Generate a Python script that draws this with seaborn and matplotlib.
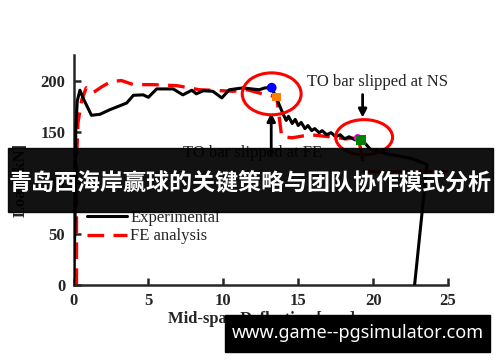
import numpy as np
import pandas as pd
import matplotlib
matplotlib.use("Agg")
import matplotlib.pyplot as plt
import seaborn as sns
from matplotlib.patches import Ellipse, Rectangle
from matplotlib.lines import Line2D

# ---------------- data ----------------
exp_x = [0.0, 0.1, 0.15, 0.25, 0.43, 0.7, 1.2, 1.77, 2.43, 3.0, 3.55, 4.0, 4.65, 5.0,
         5.55, 6.65, 7.3, 7.9, 8.2, 8.65, 9.3, 9.9, 10.4, 11.3, 11.77, 12.4, 12.77,
         13.23, 13.6, 14.0, 14.2, 14.35, 14.6, 14.8, 15.0, 15.2, 15.45, 15.65, 15.9,
         16.1, 16.4, 16.6, 16.9, 17.2, 17.5, 17.8, 18.1, 18.4, 18.8, 19.2, 19.5,
         19.8, 21.0, 22.5, 23.6, 22.77]
exp_y = [0, 60, 150, 180, 190.5, 181, 166, 167, 171.5, 174.8, 178, 185.6, 186, 183.6,
         191.8, 191.8, 186, 190.5, 187, 190, 189.5, 183, 191, 192.8, 192, 191, 192.8,
         193, 181, 167, 161, 165, 158, 162, 156, 159, 153, 156, 151,
         153, 149, 151, 147, 149, 145, 147, 143, 145, 142, 142, 138,
         133, 128, 124, 118, 0]

fe_x = [0.2, 0.2, 0.3, 0.55, 0.85, 1.3, 1.9, 2.5, 3.2, 4.0, 5.3, 6.9, 8.4, 10.0,
        10.65, 11.6, 12.6, 13.57, 13.7, 13.9, 14.6, 15.8, 17.1, 18.2, 18.97, 19.2,
        19.4, 19.8, 25.0]
fe_y = [0, 120, 159, 181, 193, 188, 194, 199, 200, 196, 196, 195, 191, 190,
        189.5, 191, 187, 184, 168, 145, 144, 147, 145, 143, 144, 132,
        112, 111, 111]

blue_pt = [13.23, 193]
orange_pt = [13.57, 184]
magenta_pt = [18.97, 144]
green_pt = [19.2, 142]

x_ticks = [0, 5, 10, 15, 20, 25]
y_ticks = [0, 50, 100, 150, 200]

series_labels = ["Experimental", "FE analysis"]
ns_note = "TO bar slipped at NS"
fe_note = "TO bar slipped at FE"
x_label = "Mid-span Deflection [mm]"
y_label = "Load [kN]"
banner = "青岛西海岸赢球的关键策略与团队协作模式分析"
watermark = "www.game--pgsimulator.com"

# ---------------- style ----------------
sns.set_style("ticks")
plt.rcParams["font.family"] = ["Liberation Serif", "DejaVu Serif"]
plt.rcParams["font.size"] = 12

fig = plt.figure(figsize=(5, 3.62), dpi=100)
ax = fig.add_axes([0.147, 0.2127, 0.749, 0.6354])

exp_df = pd.DataFrame({"x": exp_x, "y": exp_y})
fe_df = pd.DataFrame({"x": fe_x, "y": fe_y})

sns.lineplot(data=exp_df, x="x", y="y", sort=False, estimator=None, ax=ax,
             color="black", lw=2.2, zorder=3)
sns.lineplot(data=fe_df, x="x", y="y", sort=False, estimator=None, ax=ax,
             color="#ff0000", lw=2.4, dashes=False, zorder=2)
ax.lines[-1].set_dashes((5, 2.8))

for pt, col, mk, sz in [(blue_pt, "#0000ff", "o", 50), (orange_pt, "#ff8000", "s", 40),
                        (magenta_pt, "#ff00ff", "o", 30), (green_pt, "#008000", "s", 55)]:
    sns.scatterplot(x=[pt[0]], y=[pt[1]], ax=ax, color=col, marker=mk, s=sz,
                    edgecolor="none", zorder=5, legend=False)

ax.add_patch(Ellipse((13.23, 187), 3.93, 41, fill=False, ec="red", lw=2.2, zorder=4))
ax.add_patch(Ellipse((19.4, 144.6), 3.8, 34.3, fill=False, ec="red", lw=2.2, zorder=4))

ax.text(15.6, 199, ns_note, ha="left", va="center", fontsize=12, zorder=6)
ax.annotate("", xy=(19.3, 161), xytext=(19.3, 189),
            arrowprops=dict(arrowstyle="-|>", lw=2, color="black", mutation_scale=12))
ax.text(7.3, 136.5, fe_note, ha="left", va="top", fontsize=12, zorder=6)
ax.annotate("", xy=(13.2, 171), xytext=(13.2, 125),
            arrowprops=dict(arrowstyle="-|>", lw=2, color="black", mutation_scale=12))

ax.set_xlim(0, 25)
ax.set_ylim(0, 225)
ax.set_xticks(x_ticks)
ax.set_yticks(y_ticks)
ax.set_xticklabels([str(t) for t in x_ticks])
ax.set_yticklabels([str(t) for t in y_ticks])
ax.tick_params(direction="in", length=5, width=1.8, labelsize=12, pad=6)
for lab in ax.get_xticklabels() + ax.get_yticklabels():
    lab.set_fontweight("bold")
for s in ["left", "bottom"]:
    ax.spines[s].set_linewidth(1.8)
ax.spines["top"].set_visible(False)
ax.spines["right"].set_visible(False)

ax.set_xlabel(x_label, fontsize=12, fontweight="bold")
ax.xaxis.set_label_coords(0.503, -0.113)
ax.set_ylabel(y_label, fontsize=12, fontweight="bold")
ax.yaxis.set_label_coords(-0.12, 0.4565)

handles = [Line2D([], [], color="black", lw=2.2),
           Line2D([], [], color="#ff0000", lw=2.4, dashes=(5, 2.8))]
ax.legend(handles, series_labels, loc="upper left", bbox_to_anchor=(87 / 500, 1 - 210 / 362),
          bbox_transform=fig.transFigure, frameon=False, borderpad=0, borderaxespad=0,
          handlelength=2.4, handletextpad=0.2, labelspacing=0.15, fontsize=12)

# overlay banner
fig.add_artist(Rectangle((8 / 500, 1 - 212 / 362), 485 / 500, 64 / 362,
                         transform=fig.transFigure, color="black", alpha=0.93, zorder=10))
fig.text(250 / 500, 1 - 184 / 362, banner, color="white", fontsize=16.6, fontweight="bold",
         family=["Noto Sans CJK SC", "DejaVu Sans"], ha="center", va="center", zorder=11)

# watermark box
fig.add_artist(Rectangle((225 / 500, 1 - 352 / 362), 265 / 500, 37 / 362,
                         transform=fig.transFigure, color="black", zorder=10))
fig.text(357.5 / 500, 1 - 333 / 362, watermark, color="white", fontsize=13, fontweight="bold",
         family=["Noto Sans", "DejaVu Sans"], ha="center", va="center", zorder=11)

fig.savefig("out.png", dpi=100)
